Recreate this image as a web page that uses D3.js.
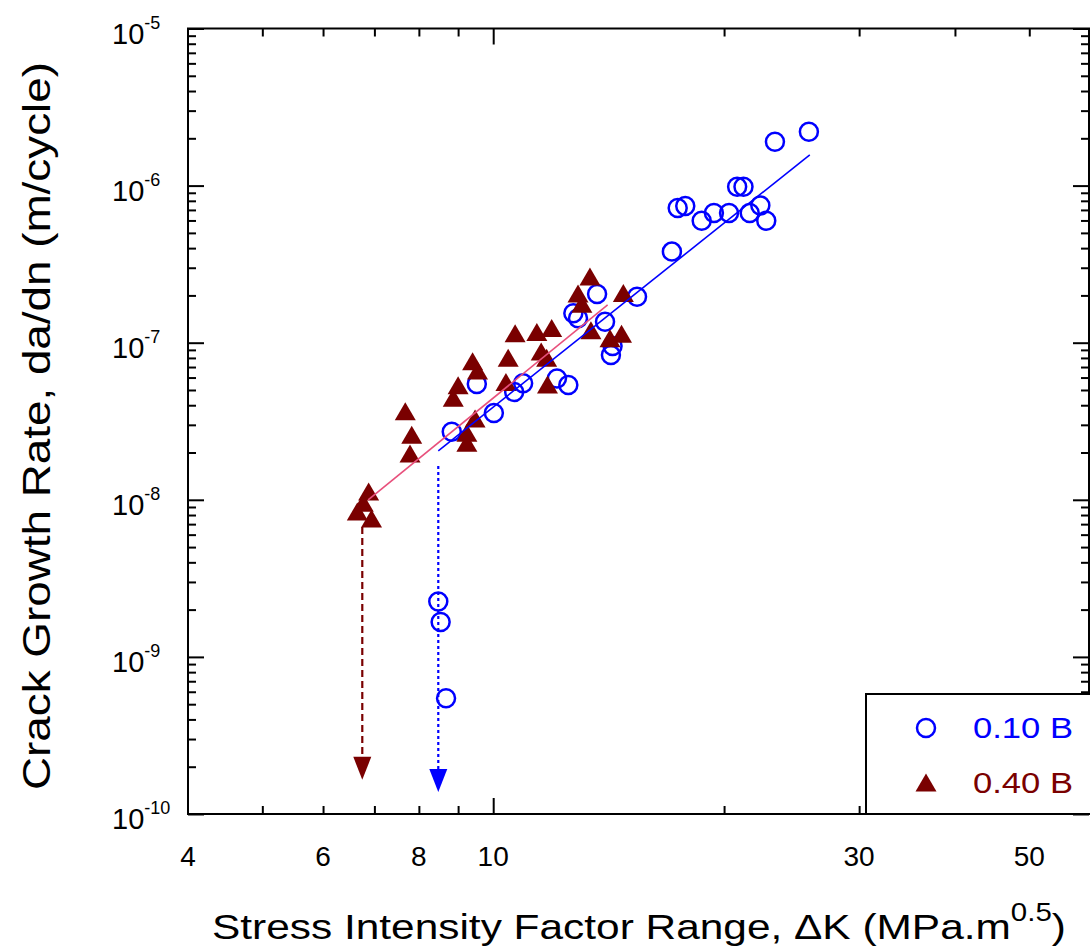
<!DOCTYPE html>
<html>
<head>
<meta charset="utf-8">
<script src="https://cdn.jsdelivr.net/npm/d3@7"></script>
<style>
  body { margin: 0; background: #fff; }
  svg { display: block; }
  text { font-family: "Liberation Sans", Arial, Helvetica, sans-serif; }
</style>
</head>
<body>
<svg id="chart" width="1090" height="952"></svg>
<script>
// ---- Data: fatigue crack growth, da/dN vs ΔK ----
// 0.10 B specimens (open circles)
const dkLowR = [25.8, 23.3, 20.8, 21.2, 22.3, 22.7, 21.6, 20.3, 19.4, 18.7,
                17.4, 17.8, 17.1, 15.4, 13.66, 13.99, 14.24, 14.31, 12.72, 12.9,
                12.53, 12.11, 10.94, 10.65, 9.52, 10.02, 8.83, 8.48, 8.54, 8.68];
const rateLowR = [2.20e-6, 1.90e-6, 9.84e-7, 9.84e-7, 7.47e-7, 5.98e-7, 6.69e-7, 6.69e-7, 6.69e-7, 5.98e-7,
                  7.20e-7, 7.42e-7, 3.80e-7, 1.96e-7, 2.04e-7, 1.36e-7, 8.35e-8, 9.53e-8, 1.54e-7, 1.43e-7,
                  5.38e-8, 5.92e-8, 5.51e-8, 4.86e-8, 5.46e-8, 3.57e-8, 2.71e-8, 2.25e-9, 1.67e-9, 5.45e-10];
// 0.40 B specimens (filled triangles)
const dkHighR = [13.37, 12.9, 13.05, 14.78, 13.41, 14.2, 14.7, 10.68, 11.4, 11.92,
                 10.46, 11.55, 11.74, 9.4, 9.54, 9.0, 8.87, 10.39, 11.77, 7.68,
                 7.83, 7.79, 9.47, 9.24, 9.24, 6.88, 6.77, 6.94, 6.65];
const rateHighR = [2.62e-7, 2.04e-7, 1.76e-7, 2.06e-7, 1.19e-7, 1.06e-7, 1.13e-7, 1.14e-7, 1.16e-7, 1.23e-7,
                   7.96e-8, 8.73e-8, 7.96e-8, 7.57e-8, 6.61e-8, 5.32e-8, 4.43e-8, 5.58e-8, 5.38e-8, 3.64e-8,
                   2.58e-8, 1.96e-8, 3.27e-8, 2.65e-8, 2.29e-8, 1.12e-8, 9.5e-9, 7.55e-9, 8.37e-9];

// Paris-law fit lines (end points)
const fitLowDK = [8.48, 25.87];
const fitLowRate = [2.05e-8, 1.57e-6];
const fitHighDK = [6.87, 14.1];
const fitHighRate = [1.0e-8, 1.74e-7];

// Threshold indications: ΔK, rate where the arrow starts, rate at the arrow tip
const thrLow = [8.48, 1.64e-8, 1.38e-10];
const thrHigh = [6.75, 6.7e-9, 1.65e-10];

// Axes
const xDomain = [4, 60];
const yDomain = [1e-10, 1e-5];
const xTickLabels = [4, 6, 8, 10, 30, 50];
const xMajorTicks = [10];
const xMinorTicks = [5, 6, 7, 8, 9, 20, 30, 40, 50];
const yDecades = [-10, -9, -8, -7, -6, -5];
const legendLabels = ["0.10 B", "0.40 B"];

// ---- Layout ----
const colLow = "#0000ff";
const colHigh = "#7a0000";
const colHighFit = "#e8507c";
const plotL = 188, plotR = 1089, plotT = 28.5, plotB = 814;

const svg = d3.select("#chart");
const x = d3.scaleLog().domain(xDomain).range([plotL, 1090]);
const y = d3.scaleLog().domain(yDomain).range([plotB, plotT]);

const yMajor = yDecades.map(e => Math.pow(10, e));
const yMinor = [];
yDecades.slice(0, -1).forEach(e => {
  for (let k = 2; k <= 9; k++) yMinor.push(k * Math.pow(10, e));
});

// stretch a text element horizontally (in its own frame) to a given length
function fitLength(sel, length, pre) {
  const w = sel.node().getBBox().width;
  sel.attr("transform", `${pre} scale(${length / w},1)`);
}

function tickAxis(axis, tx, ty) {
  svg.append("g")
    .attr("transform", `translate(${tx},${ty})`)
    .call(axis.tickFormat(""))
    .call(g => g.select(".domain").remove())
    .call(g => g.selectAll(".tick line").attr("stroke", "#000").attr("stroke-width", 2));
}
// inward ticks on all four sides
tickAxis(d3.axisBottom(x).tickValues(xMajorTicks).tickSize(-16), 0, plotB);
tickAxis(d3.axisBottom(x).tickValues(xMinorTicks).tickSize(-8), 0, plotB);
tickAxis(d3.axisTop(x).tickValues(xMajorTicks).tickSize(-16), 0, plotT);
tickAxis(d3.axisTop(x).tickValues(xMinorTicks).tickSize(-8), 0, plotT);
tickAxis(d3.axisLeft(y).tickValues(yMajor).tickSize(-16), plotL, 0);
tickAxis(d3.axisLeft(y).tickValues(yMinor).tickSize(-8), plotL, 0);
tickAxis(d3.axisRight(y).tickValues(yMajor).tickSize(-16), plotR, 0);
tickAxis(d3.axisRight(y).tickValues(yMinor).tickSize(-8), plotR, 0);

// frame
svg.append("rect")
  .attr("x", plotL).attr("y", plotT)
  .attr("width", plotR - plotL).attr("height", plotB - plotT)
  .attr("fill", "none").attr("stroke", "#000").attr("stroke-width", 2);

// x tick labels
svg.append("g").selectAll("text").data(xTickLabels).join("text")
  .attr("x", d => x(d)).attr("y", 866)
  .attr("text-anchor", "middle")
  .attr("font-size", 28)
  .text(d => d);

// y tick labels: 10 with exponent
const yl = svg.append("g").selectAll("text").data(yDecades).join("text")
  .attr("x", 112).attr("y", d => y(Math.pow(10, d)) + 15)
  .attr("font-size", 29);
yl.append("tspan").text("10");
yl.append("tspan").attr("font-size", 18).attr("dy", -15).text(d => String(d));

// axis titles
const xt = svg.append("text")
  .attr("x", 0).attr("y", 0)
  .attr("font-size", 36);
xt.append("tspan").text("Stress Intensity Factor Range, \u0394K (MPa.m");
xt.append("tspan").attr("font-size", 25).attr("dy", -18).text("0.5");
xt.append("tspan").attr("dy", 18).text(")");
fitLength(xt, 854, "translate(212,939)");

const ytl = svg.append("text")
  .attr("text-anchor", "middle")
  .attr("font-size", 38)
  .text("Crack Growth Rate, da/dn (m/cycle)");
fitLength(ytl, 728, "translate(50,426) rotate(-90)");

// threshold arrows
function thresholdArrow(t, color, dash) {
  const ax = x(t[0]);
  const tipY = y(t[2]);
  svg.append("line")
    .attr("x1", ax).attr("x2", ax)
    .attr("y1", y(t[1])).attr("y2", tipY - 20)
    .attr("stroke", color).attr("stroke-width", 2.2)
    .attr("stroke-dasharray", dash);
  svg.append("path")
    .attr("d", `M${ax - 9},${tipY - 23} L${ax + 9},${tipY - 23} L${ax},${tipY} Z`)
    .attr("fill", color);
}
thresholdArrow(thrHigh, colHigh, "7,4");
thresholdArrow(thrLow, colLow, "3,3");

// markers
const triPath = "M0,-9.5 L10.5,8.5 L-10.5,8.5 Z";
svg.append("g").selectAll("circle").data(d3.range(dkLowR.length)).join("circle")
  .attr("cx", i => x(dkLowR[i])).attr("cy", i => y(rateLowR[i]))
  .attr("r", 9)
  .attr("fill", "none").attr("stroke", colLow).attr("stroke-width", 2.5);

svg.append("g").selectAll("path").data(d3.range(dkHighR.length)).join("path")
  .attr("transform", i => `translate(${x(dkHighR[i])},${y(rateHighR[i])})`)
  .attr("d", triPath)
  .attr("fill", colHigh);

// fit lines
const fitLine = d3.line().x(d => x(d[0])).y(d => y(d[1]));
svg.append("path")
  .attr("d", fitLine(d3.zip(fitHighDK, fitHighRate)))
  .attr("fill", "none").attr("stroke", colHighFit).attr("stroke-width", 1.6);
svg.append("path")
  .attr("d", fitLine(d3.zip(fitLowDK, fitLowRate)))
  .attr("fill", "none").attr("stroke", colLow).attr("stroke-width", 1.6);

// legend
const lg = svg.append("g");
lg.append("rect")
  .attr("x", 866).attr("y", 694).attr("width", 240).attr("height", plotB - 694)
  .attr("fill", "#fff").attr("stroke", "#000").attr("stroke-width", 2);
lg.append("circle").attr("cx", 926).attr("cy", 728).attr("r", 9)
  .attr("fill", "none").attr("stroke", colLow).attr("stroke-width", 2.5);
lg.append("path").attr("transform", "translate(926,783)").attr("d", triPath).attr("fill", colHigh);
const lt1 = lg.append("text").attr("font-size", 29).attr("fill", colLow).text(legendLabels[0]);
fitLength(lt1, 100, "translate(973,738)");
const lt2 = lg.append("text").attr("font-size", 29).attr("fill", colHigh).text(legendLabels[1]);
fitLength(lt2, 100, "translate(973,793)");
</script>
</body>
</html>
